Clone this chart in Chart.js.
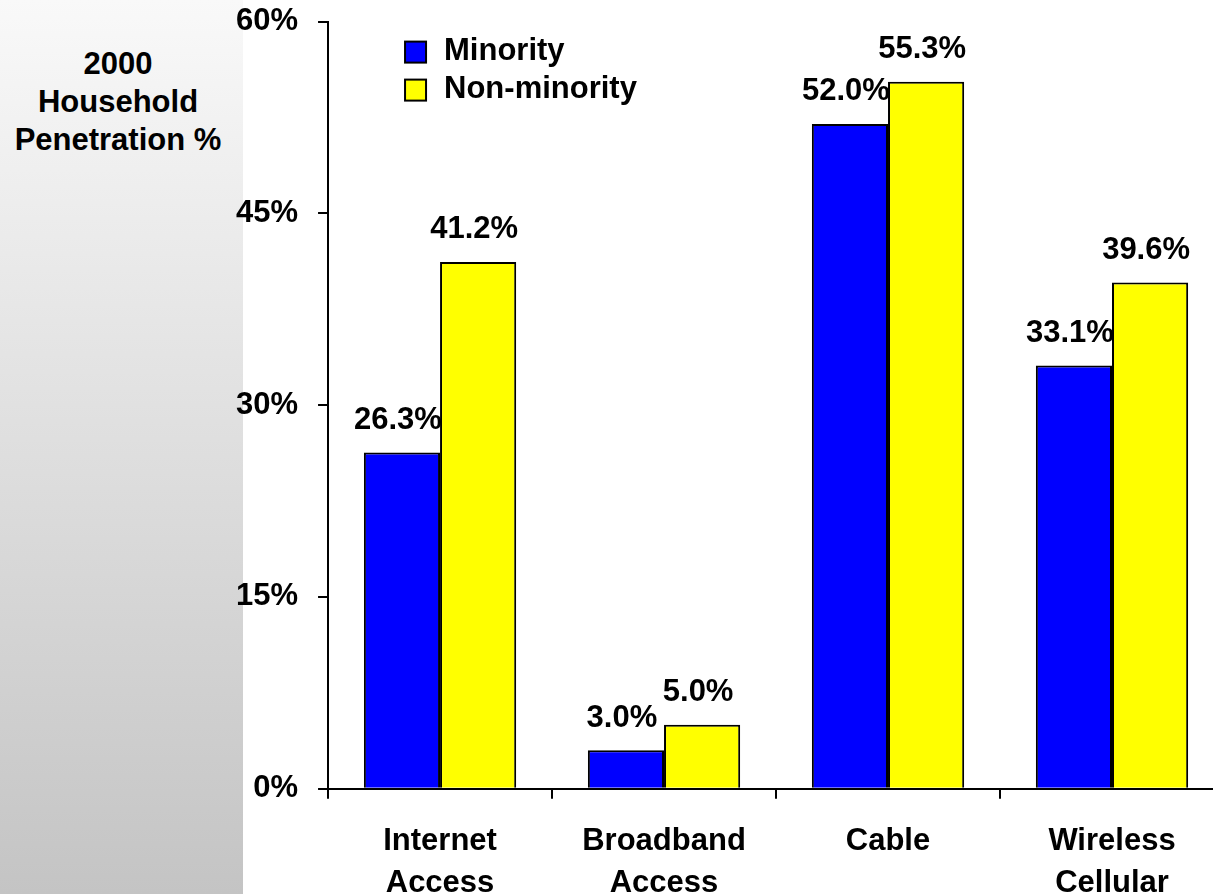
<!DOCTYPE html>
<html>
<head>
<meta charset="utf-8">
<title>2000 Household Penetration %</title>
<script src="https://cdn.jsdelivr.net/npm/chart.js@4.4.1/dist/chart.umd.min.js"></script>
<style>
  html, body { margin: 0; padding: 0; width: 1213px; height: 894px; overflow: hidden; background: #fff; }
  #side {
    position: absolute; left: 0; top: 0; width: 243px; height: 894px;
    background: linear-gradient(to bottom, #f9f9f9, #c4c4c4);
  }
  #side h2 {
    margin: 0; position: absolute; left: 0; top: 45px; width: 236px;
    text-align: center; font: bold 31px/38px "Liberation Sans", Arial, sans-serif; color: #000;
  }
  /* el lienzo sobresale un poco por arriba, abajo y a la derecha */
  #wrap { position: absolute; left: 0; top: -17px; width: 1240px; height: 944px; }
</style>
</head>
<body>
<div id="side"><h2>2000<br>Household<br>Penetration %</h2></div>
<div id="wrap"><canvas id="chartPenetracion"></canvas></div>
<script>
const categorias = [['Internet', 'Access'], ['Broadband', 'Access'], ['Cable'], ['Wireless', 'Cellular']];
const minoria = [26.3, 3.0, 52.0, 33.1];
const noMinoria = [41.2, 5.0, 55.3, 39.6];
const ticksY = [0, 15, 30, 45, 60];

const fuente = '"Liberation Sans", Arial, sans-serif';

// etiquetas de valor encima de cada barra
const etiquetasValor = {
    id: 'etiquetasValor',
    afterDatasetsDraw(chart) {
        const ctx = chart.ctx;
        ctx.save();
        ctx.font = 'bold 31px ' + fuente;
        ctx.fillStyle = '#000';
        ctx.textAlign = 'center';
        ctx.textBaseline = 'middle';
        chart.data.datasets.forEach((ds, i) => {
            chart.getDatasetMeta(i).data.forEach((bar, j) => {
                ctx.fillText(ds.data[j].toFixed(1) + '%', bar.x - 4, bar.y - 32);
            });
        });
        ctx.restore();
    }
};

// leyenda dentro del area del grafico
const leyenda = {
    id: 'leyenda',
    afterDraw(chart) {
        const ctx = chart.ctx;
        const x = chart.chartArea.left + 77;
        let y = chart.chartArea.top + 30;
        ctx.save();
        ctx.font = 'bold 31px ' + fuente;
        ctx.textBaseline = 'middle';
        chart.data.datasets.forEach(ds => {
            ctx.fillStyle = ds.backgroundColor;
            ctx.fillRect(x, y - 10, 21, 21);
            ctx.lineWidth = 2;
            ctx.strokeStyle = '#000';
            ctx.strokeRect(x, y - 10, 21, 21);
            ctx.fillStyle = '#000';
            ctx.fillText(ds.label, x + 39, y);
            y += 38;
        });
        ctx.restore();
    }
};

const ctx = document.getElementById('chartPenetracion').getContext('2d');

new Chart(ctx, {
    type: 'bar',
    data: {
        labels: categorias,
        datasets: [
            { label: 'Minority', data: minoria, backgroundColor: '#0000ff', borderColor: '#000', borderWidth: 2 },
            { label: 'Non-minority', data: noMinoria, backgroundColor: '#ffff00', borderColor: '#000', borderWidth: 2 }
        ]
    },
    options: {
        responsive: true,
        maintainAspectRatio: false,
        animation: false,
        layout: { padding: { left: 216, top: 6, right: 16, bottom: 0 } },
        datasets: { bar: { categoryPercentage: 0.68, barPercentage: 1.0 } },
        plugins: {
            legend: { display: false },
            tooltip: { enabled: false }
        },
        scales: {
            x: {
                grid: { display: true, drawOnChartArea: false, drawTicks: true, tickLength: 10, color: '#000', lineWidth: 2, offset: true },
                border: { display: true, color: '#000', width: 2 },
                ticks: { color: '#000', padding: 22, maxRotation: 0, font: { family: fuente, size: 31, weight: 'bold', lineHeight: 1.36 } }
            },
            y: {
                min: 0,
                max: 60,
                afterBuildTicks(axis) { axis.ticks = ticksY.map(v => ({ value: v })); },
                grid: { display: true, drawOnChartArea: false, drawTicks: true, tickLength: 10, color: '#000', lineWidth: 2 },
                border: { display: true, color: '#000', width: 2 },
                ticks: { color: '#000', padding: 20, callback: v => v + '%', font: { family: fuente, size: 31, weight: 'bold' } }
            }
        }
    },
    plugins: [etiquetasValor, leyenda]
});
</script>
</body>
</html>
